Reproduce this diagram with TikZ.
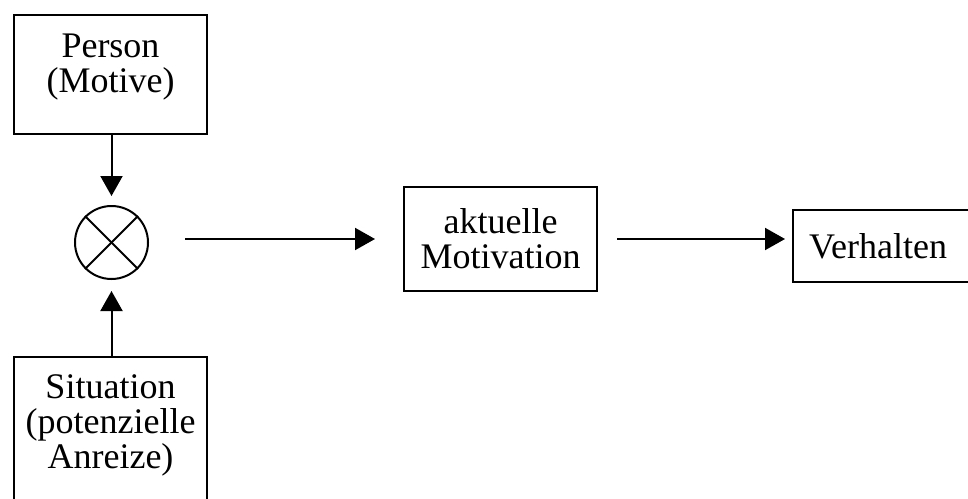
\documentclass[tikz,border=0pt]{standalone}
\usepackage{fontspec}
\setmainfont{Liberation Serif}
\usetikzlibrary{arrows.meta}

\begin{document}
\begin{tikzpicture}[x=0.5pt,y=-0.5pt,
	box/.style={draw,line width=1pt,minimum width=96.5pt,align=center,inner sep=0pt,font=\fontsize{18pt}{17.5pt}\selectfont},
	arr/.style={line width=1pt,-{Triangle[length=10pt,width=11pt]}}]
	\clip (0,0) rectangle (968,498);
	\node (person) at (110.5,14) [box,anchor=north,inner ysep=9pt,text depth=11.7pt,minimum height=59.5pt] {Person\\(Motive)};
	\node (mult) at (111.5,242.5) [draw,circle,line width=1pt,minimum size=36.5pt,inner sep=0pt] {};
	\draw[line width=1pt] (mult.north west) -- (mult.south east);
	\draw[line width=1pt] (mult.north east) -- (mult.south west);
	\node (situation) at (110.5,356) [box,anchor=north,inner ysep=9pt,text depth=60pt] {Situation\\(potenzielle\\Anreize)};
	\node (motiv) at (500.5,239) [box,minimum height=52pt] {aktuelle\\Motivation};
	\node (verhalten) at (792,246) [box,anchor=west,minimum height=36pt,text width=100pt,align=left,inner xsep=8pt] {Verhalten};
	\draw[arr,shorten >=4.5pt] (person.south -| mult) -- (mult.north);
	\draw[arr,shorten >=5.5pt] (situation.north -| mult) -- (mult.south);
	\draw[arr,shorten <=18pt,shorten >=14pt] (mult.east |- motiv.west) -- (motiv.west);
	\draw[arr,shorten <=9.5pt,shorten >=3.5pt] (motiv.east) -- (motiv.east -| verhalten.west);
\end{tikzpicture}
\end{document}
